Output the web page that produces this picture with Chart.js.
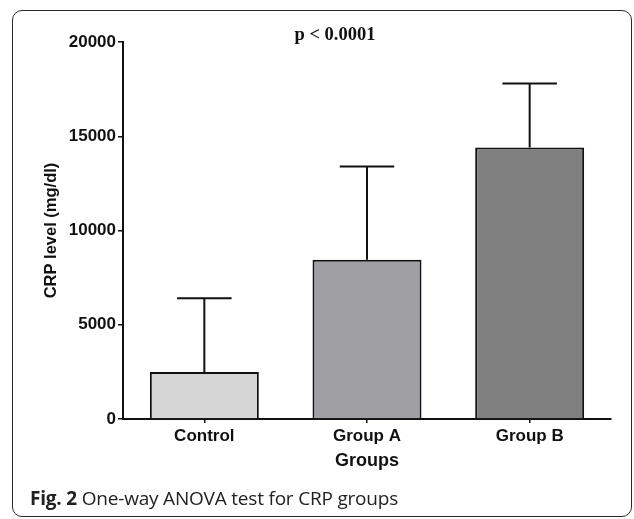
<!DOCTYPE html>
<html>
<head>
<meta charset="utf-8">
<script src="https://cdn.jsdelivr.net/npm/chart.js@4.4.1/dist/chart.umd.min.js"></script>
<style>
  html, body { margin: 0; padding: 0; background: #fff; }
  #wrap { position: relative; width: 634px; height: 519px; overflow: hidden; }
  #frame {
    position: absolute; left: 12px; top: 10px; width: 618px; height: 505px;
    border: 1.5px solid #2a2a2a; border-radius: 10px;
  }
  #chart { position: absolute; left: 0; top: 0; }
  #pval {
    position: absolute; left: 235px; width: 200px; top: 24px; text-align: center;
    font: bold 18.5px "Liberation Serif", "Times New Roman", serif; color: #111;
  }
  #caption {
    position: absolute; left: 30px; top: 485px;
    font: 19px "Open Sans", sans-serif; color: #222; letter-spacing: -0.2px;
  }
  #caption b { font-weight: 700; }
</style>
</head>
<body>
<div id="wrap">
  <div id="frame"></div>
  <canvas id="chart" width="634" height="519"></canvas>
  <div id="pval">p &lt; 0.0001</div>
  <div id="caption"><b>Fig. 2</b> One-way ANOVA test for CRP groups</div>
</div>
<script>
// Mean CRP per group and the upper end of its error bar (mean + SD)
const groups = ['Control', 'Group A', 'Group B'];
const crpMean = [2500, 8450, 14400];
const crpUpper = [6400, 13400, 17800];
const barColors = ['#d6d6d6', '#a09fa4', '#808080'];
const yTicks = [0, 5000, 10000, 15000, 20000];

const tickFont = { family: 'Liberation Sans, Arial, sans-serif', size: 17, weight: 'bold' };

// one-sided (upward) error bars with a cap
const errorBars = {
  id: 'errorBars',
  afterDatasetsDraw(chart) {
    const ctx = chart.ctx;
    const meta = chart.getDatasetMeta(0);
    const y = chart.scales.y;
    ctx.save();
    ctx.strokeStyle = '#111';
    ctx.lineWidth = 2;
    meta.data.forEach((bar, i) => {
      const top = y.getPixelForValue(crpUpper[i]);
      const half = bar.width * 0.25;
      ctx.beginPath();
      ctx.moveTo(bar.x, bar.y);
      ctx.lineTo(bar.x, top);
      ctx.moveTo(bar.x - half, top);
      ctx.lineTo(bar.x + half, top);
      ctx.stroke();
    });
    ctx.restore();
  }
};

new Chart(document.getElementById('chart'), {
  type: 'bar',
  data: {
    labels: groups,
    datasets: [{
      data: crpMean,
      backgroundColor: barColors,
      borderColor: '#111',
      borderWidth: 2,
      borderSkipped: 'bottom',
      barPercentage: 0.67,
      categoryPercentage: 1
    }]
  },
  options: {
    responsive: false,
    animation: false,
    layout: { padding: { top: 42, right: 23, left: 42, bottom: 47 } },
    plugins: { legend: { display: false }, tooltip: { enabled: false } },
    scales: {
      x: {
        grid: { offset: false, drawOnChartArea: false, drawTicks: true, tickLength: 4, color: '#111', lineWidth: 1.5 },
        border: { color: '#111', width: 2 },
        ticks: { color: '#111', font: tickFont, padding: 3 },
        title: { display: true, text: 'Groups', color: '#111', padding: 0,
                 font: { family: 'Liberation Sans, Arial, sans-serif', size: 18, weight: 'bold' } },
        afterFit(scale) { scale.height = 53; }
      },
      y: {
        min: 0,
        max: 20000,
        afterBuildTicks(scale) { scale.ticks = yTicks.map(v => ({ value: v })); },
        grid: { drawOnChartArea: false, drawTicks: true, tickLength: 5, color: '#111', lineWidth: 1.5 },
        border: { color: '#111', width: 2 },
        ticks: { color: '#111', font: tickFont, padding: 2, callback: v => String(v) },
        title: { display: true, text: 'CRP level (mg/dl)', color: '#111', padding: 0,
                 font: { family: 'Liberation Sans, Arial, sans-serif', size: 16.5, weight: 'bold' } },
        afterFit(scale) { scale.width = 81; }
      }
    }
  },
  plugins: [errorBars]
});
</script>
</body>
</html>
